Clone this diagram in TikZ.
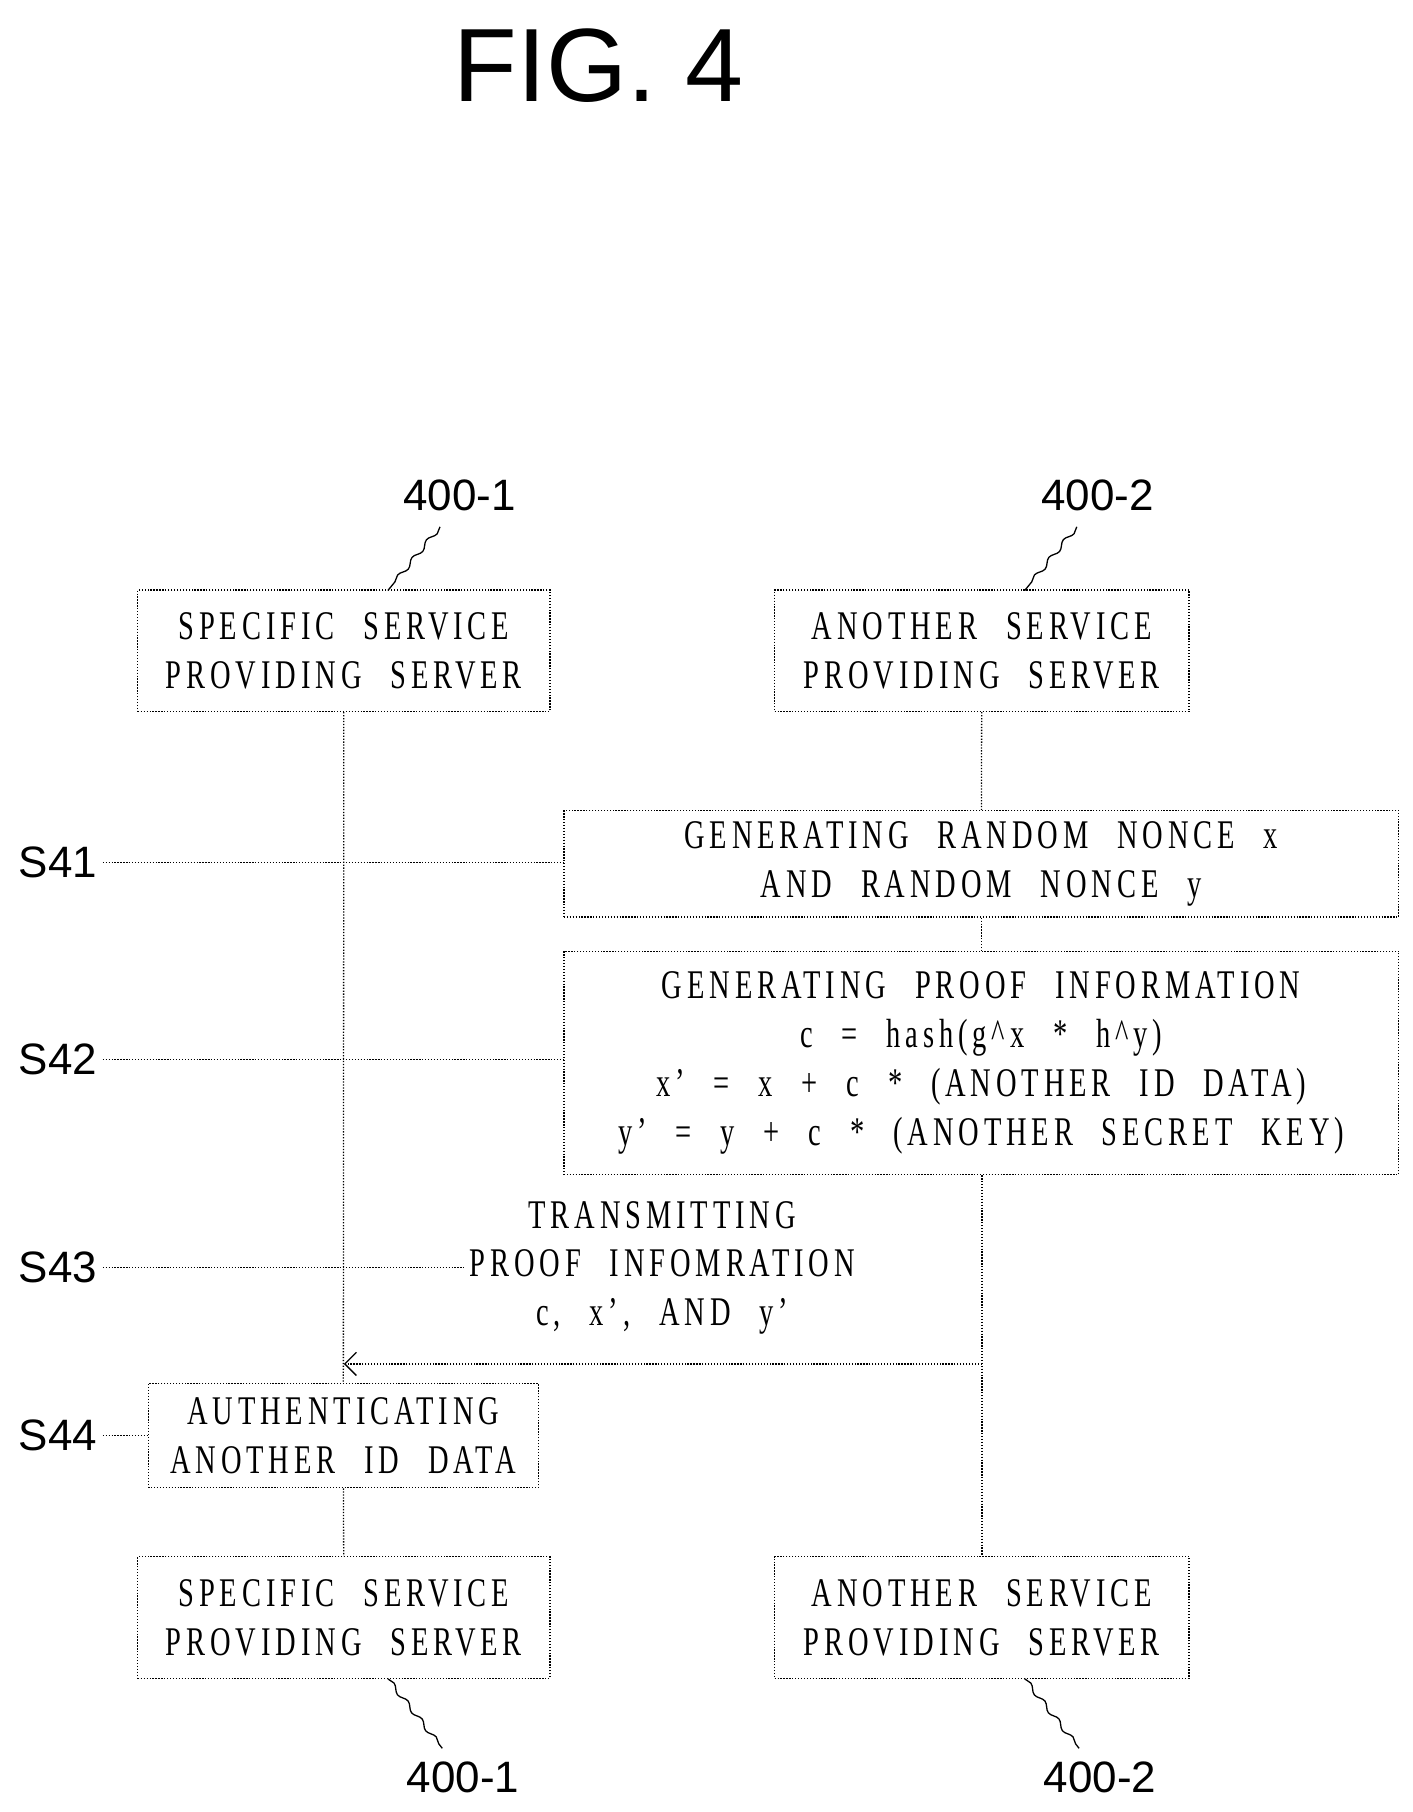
\documentclass[tikz,border=0pt]{standalone}
\usepackage{fontspec}
\setmainfont{Liberation Serif}[FakeStretch=0.7,LetterSpace=12,WordSpace=2.4]
\newfontfamily\labelfont{Liberation Sans}
\usetikzlibrary{arrows.meta, positioning, decorations.pathmorphing}

\begin{document}
\begin{tikzpicture}[
      x=0.025cm, y=-0.025cm,
      box/.style={draw, thick, densely dotted, align=center, inner sep=0pt, font=\fontsize{25}{30}\selectfont},
      tag/.style={font=\labelfont\fontsize{27}{30}\selectfont},
      life/.style={thick, densely dotted},
      squig/.style={thick, decorate, decoration={snake, segment length=14, amplitude=1.4}},
      arr/.style={-{Straight Barb[length=2.5mm]}, thick}
    ]
    \useasboundingbox (0,0) rectangle (1220,1565);
    \node[font=\labelfont\fontsize{64}{64}\selectfont] (title) at (517,57) {FIG. 4};

    % servers at the top
    \node[box, minimum width=356*0.025cm, minimum height=105*0.025cm] (specTop) at (297,562) {SPECIFIC SERVICE\\PROVIDING SERVER};
    \node[box, minimum width=358*0.025cm, minimum height=105*0.025cm] (anoTop) at (848,562) {ANOTHER SERVICE\\PROVIDING SERVER};
    \node[tag] (refA) at (397,428) {400-1};
    \node[tag] (refB) at (948,428) {400-2};
    \draw[squig] (380,455) -- (335,510);
    \draw[squig] (930,455) -- (885,510);

    % steps
    \node[box, minimum width=721*0.025cm, minimum height=92*0.025cm] (nonce) at (847.5,746) {GENERATING RANDOM NONCE x\\AND RANDOM NONCE y};
    \node[box, minimum width=721*0.025cm, minimum height=193*0.025cm] (proof) at (847.5,918) {GENERATING PROOF INFORMATION\\c = hash(g\^{}x * h\^{}y)\\x' = x + c * (ANOTHER ID DATA)\\y' = y + c * (ANOTHER SECRET KEY)};
    \node[align=center, font=\fontsize{25}{30}\selectfont] (send) at (572,1095) {TRANSMITTING\\PROOF INFOMRATION\\c, x', AND y'};
    \node[box, minimum width=337*0.025cm, minimum height=90*0.025cm] (auth) at (296.5,1240) {AUTHENTICATING\\ANOTHER ID DATA};

    % servers at the bottom
    \node[box, minimum width=356*0.025cm, minimum height=105*0.025cm] (specBot) at (297,1397) {SPECIFIC SERVICE\\PROVIDING SERVER};
    \node[box, minimum width=358*0.025cm, minimum height=105*0.025cm] (anoBot) at (848,1397) {ANOTHER SERVICE\\PROVIDING SERVER};
    \node[tag] (refC) at (400,1535) {400-1};
    \node[tag] (refD) at (950,1535) {400-2};
    \draw[squig] (335,1450) -- (382,1510);
    \draw[squig] (885,1450) -- (932,1510);

    % lifelines
    \draw[life] (specTop) -- (auth);
    \draw[life] (auth) -- (specBot);
    \draw[life] (anoTop) -- (nonce);
    \draw[life] (nonce) -- (proof);
    \draw[life] (proof.south -| anoBot) -- (anoBot);
    \coordinate (fromB) at (848,1178);
    \coordinate (toA) at (297,1178);
    \draw[arr, densely dotted] (fromB) -- (toA);

    % step labels
    \node[tag] (s41) at (50,745) {S41};
    \node[tag] (s42) at (50,915) {S42};
    \node[tag] (s43) at (50,1095) {S43};
    \node[tag] (s44) at (50,1240) {S44};
    \draw[life] (s41) -- (nonce.west |- s41);
    \draw[life] (s42) -- (proof.west |- s42);
    \draw[life] (s43) -- (send.west |- s43);
    \draw[life] (s44) -- (auth.west |- s44);
  \end{tikzpicture}
\end{document}
